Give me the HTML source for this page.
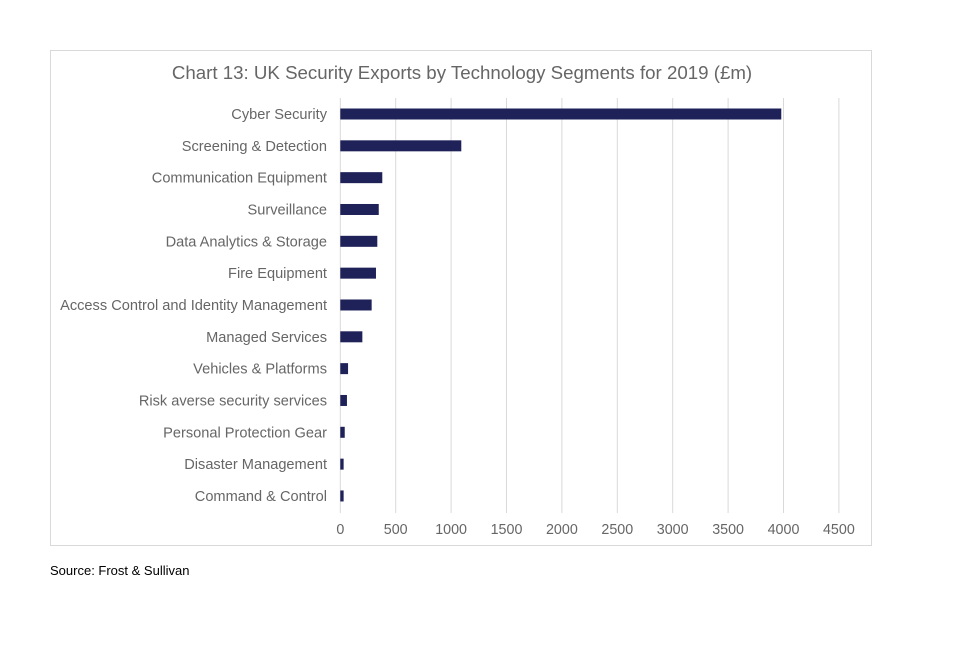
<!DOCTYPE html>
<html><head><meta charset="utf-8"><style>
body{margin:0;width:960px;height:640px;background:#fff;font-family:"Liberation Sans",sans-serif;}
</style></head><body>
<svg width="960" height="640" id="c">
<rect x="50.5" y="50.5" width="821" height="495" fill="#fff" stroke="#d9d9d9"/>
<text x="462" y="79" text-anchor="middle" font-size="18.7" fill="#666">Chart 13: UK Security Exports by Technology Segments for 2019 (£m)</text>
<text x="50" y="575" font-size="13" fill="#000">Source: Frost &amp; Sullivan</text>
<g id="grid"></g><g id="bars"></g><g id="labels"></g><g id="ticks"></g>
</svg>
<script>
const categories=["Cyber Security","Screening & Detection","Communication Equipment","Surveillance","Data Analytics & Storage","Fire Equipment","Access Control and Identity Management","Managed Services","Vehicles & Platforms","Risk averse security services","Personal Protection Gear","Disaster Management","Command & Control"];
const values=[3980,1092,379,347,334,322,283,199,70,60,40,30,30];
const tickValues=[0,500,1000,1500,2000,2500,3000,3500,4000,4500];
const ns="http://www.w3.org/2000/svg";
const x0=340.3,pxPer=0.1108,y0=114,step=31.83,bh=11;
const xs=v=>x0+v*pxPer, ys=i=>y0+i*step;
function mk(t,a,p){const e=document.createElementNS(ns,t);for(const k in a)e.setAttribute(k,a[k]);document.getElementById(p).appendChild(e);return e;}
tickValues.forEach(v=>{
 const g=mk('line',{x1:xs(v),x2:xs(v),y1:98,y2:513,stroke:'#d9d9d9','stroke-width':1},'grid');
 
 
 const t=mk('text',{x:xs(v),y:534,'text-anchor':'middle','font-size':14.3,fill:'#666'},'ticks');
 t.textContent=v;
 
 
});
categories.forEach((c,i)=>{
 const r=mk('rect',{x:x0,y:ys(i)-bh/2,width:values[i]*pxPer,height:bh,fill:'#1f2258'},'bars');
 
 
 const t=mk('text',{x:327,y:ys(i)+5,'text-anchor':'end','font-size':14.6,fill:'#666'},'labels');
 t.textContent=c;
 
 
});
</script>
</body></html>
